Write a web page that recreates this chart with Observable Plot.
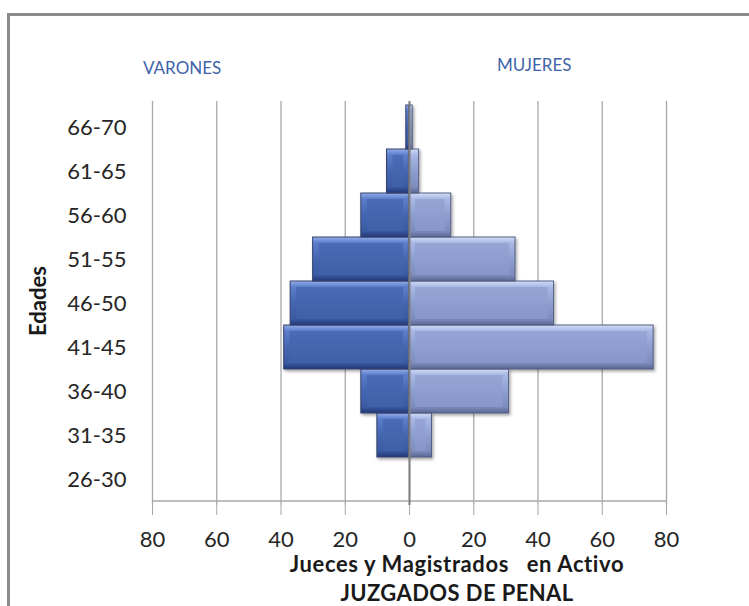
<!DOCTYPE html>
<html>
<head>
<meta charset="utf-8">
<script src="https://cdn.jsdelivr.net/npm/d3@7"></script>
<script src="https://cdn.jsdelivr.net/npm/@observablehq/plot@0.6"></script>
<style>
  html, body { margin: 0; padding: 0; background: #fff; }
  #wrap { position: relative; width: 749px; height: 606px; overflow: hidden; font-family: Lato, "Open Sans", sans-serif; }
  #frame { position: absolute; left: 7px; top: 13px; width: 800px; height: 700px; border-left: 3px solid #8c8c8c; border-top: 3px solid #8c8c8c; box-sizing: border-box; }
  #chart { position: absolute; left: 0; top: 0; }
  #chart svg text { white-space: pre; }
  .side { position: absolute; font-size: 17px; line-height: 17px; color: #3f63aa; white-space: nowrap; }
  .ttl { position: absolute; font-weight: bold; color: #1a1a1a; white-space: pre; line-height: 1; transform: translate(-50%, -50%); }
</style>
</head>
<body>
<div id="wrap">
  <div id="frame"></div>
  <div id="chart"></div>
</div>
<script>
// ---- data ----
const ages = ["26-30", "31-35", "36-40", "41-45", "46-50", "51-55", "56-60", "61-65", "66-70"];
const varones = [0, 10, 15, 39, 37, 30, 15, 7, 1];
const mujeres = [0, 7, 31, 76, 45, 33, 13, 3, 1];
const xTicks = [-80, -60, -40, -20, 0, 20, 40, 60, 80];
const sideLabels = ["VARONES", "MUJERES"];
const xTitle = ["Jueces y Magistrados   en Activo", "JUZGADOS DE PENAL"];
const yTitle = "Edades";

// ---- tables ----
const maleRows = ages.map((a, i) => ({age: a, x1: -varones[i], x2: 0})).filter(d => d.x1 !== 0);
const femaleRows = ages.map((a, i) => ({age: a, x1: 0, x2: mujeres[i]})).filter(d => d.x2 !== 0);

const inset = 6;
const chart = Plot.plot({
  width: 749,
  height: 606,
  marginTop: 101,
  marginBottom: 101,
  marginLeft: 152,
  marginRight: 83,
  style: {fontFamily: "Lato, 'Open Sans', sans-serif", fontSize: "22px", color: "#262626", background: "transparent"},
  x: {domain: [-80, 80], label: null},
  y: {domain: ages.slice().reverse(), padding: 0, label: null},
  marks: [
    Plot.gridX(xTicks, {stroke: "#a8a8a8", strokeOpacity: 1, strokeWidth: 1.3}),
    Plot.axisX(xTicks, {tickFormat: d => Math.abs(d), tickSize: 10, tickPadding: 16, stroke: "#a8a8a8", fill: "#262626", fontSize: 22, label: null}),
    Plot.axisY({tickSize: 0, tickPadding: 26, fill: "#262626", fontSize: 22, label: null}),
    Plot.barX(maleRows, {y: "age", x1: "x1", x2: "x2", fill: "url(#gM)", stroke: "#37436e", strokeWidth: 1}),
    Plot.barX(maleRows, {y: "age", x1: "x1", x2: "x2", fill: "url(#gMf)", insetLeft: inset, insetRight: inset, insetTop: inset, insetBottom: inset}),
    Plot.barX(femaleRows, {y: "age", x1: "x1", x2: "x2", fill: "url(#gF)", stroke: "#545d80", strokeWidth: 1}),
    Plot.barX(femaleRows, {y: "age", x1: "x1", x2: "x2", fill: "url(#gFf)", insetLeft: inset, insetRight: inset, insetTop: inset, insetBottom: inset}),
    Plot.ruleX([0], {stroke: "#7f7f7f", strokeWidth: 2})
  ]
});

// gradients / shadow definitions
const svg = d3.select(chart);
const defs = svg.insert("defs", ":first-child");
function grad(id, stops) {
  const g = defs.append("linearGradient").attr("id", id).attr("x1", 0).attr("y1", 0).attr("x2", 0).attr("y2", 1);
  stops.forEach(([o, c]) => g.append("stop").attr("offset", o).attr("stop-color", c));
}
grad("gM", [[0, "#93aeea"], [0.13, "#5d7ecb"], [0.5, "#4566b0"], [0.86, "#3a5aa2"], [1, "#223878"]]);
grad("gMf", [[0, "#4a6bb5"], [1, "#3f5fa8"]]);
grad("gF", [[0, "#d3ddf7"], [0.13, "#a9b8e4"], [0.5, "#8e9ecf"], [0.86, "#7d8cbd"], [1, "#5c6894"]]);
grad("gFf", [[0, "#95a5d6"], [1, "#8797c9"]]);
const f = defs.append("filter").attr("id", "sh").attr("x", "-10%").attr("y", "-10%").attr("width", "130%").attr("height", "140%");
f.append("feDropShadow").attr("dx", 1.5).attr("dy", 2).attr("stdDeviation", 1.5).attr("flood-color", "#000").attr("flood-opacity", 0.35);
const barGroups = svg.selectAll('g[aria-label="bar"]').nodes();
[0, 2].forEach(i => barGroups[i] && barGroups[i].setAttribute("filter", "url(#sh)"));

// bottom axis line, positioned through the chart's own scales
const xs = chart.scale("x"), ys = chart.scale("y");
const yBottom = ys.apply(ages[0]) + ys.bandwidth;
svg.insert("line", () => barGroups[0])
  .attr("x1", xs.apply(-80)).attr("x2", xs.apply(80))
  .attr("y1", yBottom).attr("y2", yBottom)
  .attr("stroke", "#a8a8a8").attr("stroke-width", 1.3);

document.getElementById("chart").appendChild(chart);

// side labels and titles (outside the plot frame)
const wrap = document.getElementById("wrap");
function addDiv(cls, text, css) {
  const d = document.createElement("div");
  d.className = cls; d.textContent = text;
  Object.assign(d.style, css);
  wrap.appendChild(d);
  return d;
}
addDiv("side", sideLabels[0], {left: "143px", top: "59px"});
addDiv("side", sideLabels[1], {left: "497px", top: "56px"});
addDiv("ttl", xTitle[0], {left: "457px", top: "564px", fontSize: "22px", letterSpacing: "0.6px"});
addDiv("ttl", xTitle[1], {left: "457px", top: "593px", fontSize: "22px", letterSpacing: "0.4px"});
addDiv("ttl", yTitle, {left: "38px", top: "301px", fontSize: "22px", transform: "translate(-50%, -50%) rotate(-90deg)"});
</script>
</body>
</html>
